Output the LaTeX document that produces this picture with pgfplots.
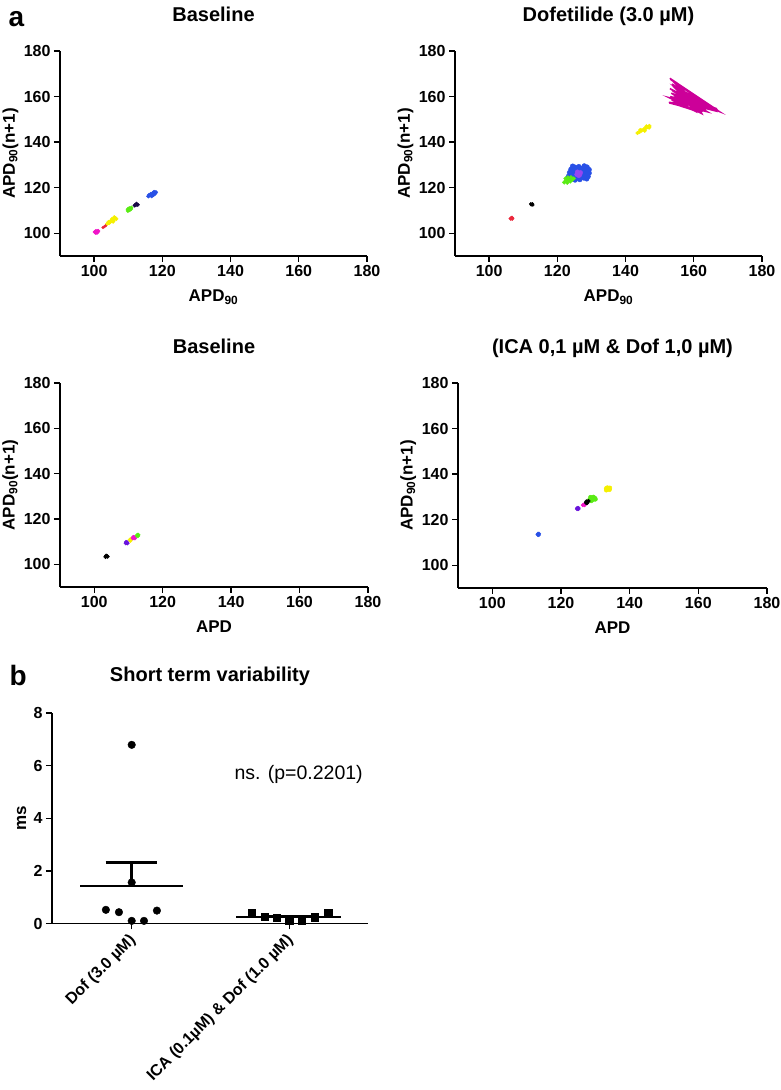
\documentclass[border=0pt]{standalone}
\usepackage{fontspec}
\setmainfont{Liberation Sans}
\usepackage{pgfplots}
\pgfplotsset{compat=1.18}

\definecolor{cmag}{RGB}{240,20,200}
\definecolor{cmagb}{RGB}{204,0,153}
\definecolor{cred}{RGB}{235,40,60}
\definecolor{cyel}{RGB}{245,240,0}
\definecolor{cgrn}{RGB}{90,235,20}
\definecolor{cblu}{RGB}{40,80,230}
\definecolor{cnavy}{RGB}{25,10,70}
\definecolor{cpur}{RGB}{105,20,220}
\definecolor{clav}{RGB}{150,70,240}

\newcommand{\tfont}{\fontsize{20}{20}\selectfont\bfseries}
\newcommand{\lfont}{\fontsize{17}{17}\selectfont\bfseries}
\newcommand{\kfont}{\fontsize{16}{16}\selectfont\bfseries}

\pgfplotsset{
  common/.style={
    scale only axis,
    axis lines=left, axis line style={-, line width=1.8pt},
    tick align=outside, major tick length=6pt,
    tick style={line width=1.4pt, black},
    tick label style={font=\kfont},
    /pgf/number format/assume math mode=true,
    clip=false,
  },
  poinc/.style={
    common, width=307pt, height=205pt,
    xmin=90, xmax=180, ymin=90, ymax=180,
    xtick={100,120,...,180}, ytick={100,120,...,180},
    title style={font=\tfont, at={(axis description cs:0.5,1.117)}, anchor=base},
    xlabel style={font=\lfont, at={(axis description cs:0.5,-0.224)}, anchor=base},
    ylabel style={font=\lfont, at={(axis description cs:-0.147,0.5)}, anchor=base},
  },
  cl/.style={only marks, mark=*, mark size=1.9pt, color=#1},
}

\begin{document}
\begin{tikzpicture}
\path[use as bounding box] (0,0) rectangle (780pt,1090pt);

\node[font=\fontsize{28}{28}\selectfont\bfseries, anchor=base west] at (5pt,1063pt) {a};
\node[font=\fontsize{28}{28}\selectfont\bfseries, anchor=base west] at (6pt,404pt) {b};

% top left
\begin{axis}[poinc, at={(60pt,834pt)}, anchor=south west,
  title={Baseline}, xlabel={APD\textsubscript{90}}, ylabel={APD\textsubscript{90}(n+1)}]
\addplot[cl=cmag] coordinates {(100.2,100.5)(100.6,100.9)(101.0,100.6)(100.5,100.2)(100.9,100.3)(100.4,100.7)(101.2,101.0)};
\addplot[cl=cred, mark size=1.4pt] coordinates {(102.6,102.5)(103.0,102.9)(103.4,103.3)};
\addplot[cl=cyel] coordinates {(103.9,104.2)(104.4,104.5)(104.8,105.2)(105.3,105.4)(105.8,106.0)(106.2,106.6)(104.6,104.9)(105.6,105.1)(105.2,106.2)(106.5,106.3)(105.9,107.0)(104.2,104.9)};
\addplot[cl=cgrn] coordinates {(109.9,109.8)(110.4,110.2)(110.8,110.6)(110.3,110.9)(110.9,111.2)(109.9,110.5)};
\addplot[cl=cnavy] coordinates {(111.9,112.2)(112.4,112.6)(112.8,112.5)(112.4,112.9)};
\addplot[cl=cblu] coordinates {(115.9,116.2)(116.4,116.6)(116.9,116.3)(117.4,116.8)(117.9,117.4)(117.6,118.1)(116.6,117.2)(116.1,116.8)(117.2,117.6)(118.1,118.0)};
\end{axis}

% top right
\begin{axis}[poinc, at={(455pt,834pt)}, anchor=south west,
  title={Dofetilide (3.0 µM)}, xlabel={APD\textsubscript{90}}, ylabel={APD\textsubscript{90}(n+1)}]
\addplot[cl=cred] coordinates {(106.3,106.4)(106.7,106.8)(106.5,106.6)(106.8,106.4)};
\addplot[cl=black, mark size=1.5pt] coordinates {(112.3,112.5)(112.7,112.9)(112.5,112.6)(112.2,112.9)(112.8,112.4)};
\addplot[cl=cblu, mark size=2.5pt] coordinates {(123.3,125.0)(123.6,126.6)(124.0,128.0)(124.2,124.0)(124.6,125.6)(124.8,127.3)(125.2,128.9)(125.5,124.2)(125.8,126.0)(126.0,127.6)(126.3,129.2)(126.6,123.6)(126.9,125.2)(127.2,126.8)(127.5,128.6)(127.8,124.3)(128.1,125.8)(128.4,127.4)(128.7,129.0)(129.0,124.9)(129.3,126.4)(129.3,127.9)(124.5,129.4)(127.9,129.5)(125.2,123.4)(123.0,124.0)(128.6,123.9)(125.0,126.5)(127.0,128.0)(126.5,124.8)(128.0,127.0)};
\addplot[cl=clav, mark size=2.2pt] coordinates {(125.7,125.8)(126.2,126.3)(126.6,125.7)(125.9,126.9)(126.8,126.6)(126.3,125.3)};
\addplot[cl=cgrn] coordinates {(122.0,122.3)(122.5,123.2)(122.9,122.2)(123.3,123.6)(123.8,122.7)(124.3,123.4)(124.8,124.0)(123.1,124.5)(122.4,124.0)(124.0,124.5)};
\addplot[cl=cyel] coordinates {(143.5,144.0)(144.1,144.5)(144.7,145.1)(145.3,145.6)(145.9,146.1)(146.5,146.6)(147.0,147.1)(144.3,145.3)(145.6,145.0)(146.1,146.9)(146.9,146.4)};
\addplot[cmagb, line width=1.5pt, mark=none] coordinates {
(153.2,167.5)(166.5,153.8)(153.6,165.5)(165.0,154.2)(153.0,163.5)(163.5,153.6)
(154.0,166.5)(167.5,153.4)(153.4,161.5)(162.5,153.2)(154.5,164.0)(166.0,154.5)
(152.8,159.5)(161.8,152.9)(155.0,163.0)(164.5,155.0)(152.7,157.5)(162.0,153.0)
(156.0,162.0)(165.5,154.0)(153.5,158.5)(160.5,153.5)(155.5,165.0)(167.0,154.0)
(153.0,168.0)(163.0,154.5)(154.2,160.5)(161.0,154.0)(152.8,157.2)(164.0,153.3)
(153.8,162.5)(166.8,154.6)(153.1,160.0)(162.8,154.0)};
\end{axis}

% bottom left
\begin{axis}[poinc, at={(60pt,503pt)}, anchor=south west, width=308pt, height=204pt,
  title={Baseline}, xlabel={APD}, ylabel={APD\textsubscript{90}(n+1)}]
\addplot[cl=black] coordinates {(103.3,103.3)(103.7,103.7)(103.9,103.4)(103.5,103.8)};
\addplot[cl=cpur] coordinates {(109.2,109.3)(109.6,109.7)(109.7,109.3)(109.3,109.8)};
\addplot[cl=cyel] coordinates {(110.4,110.8)(110.8,111.2)(110.6,110.4)};
\addplot[cl=cmag] coordinates {(111.3,111.5)(111.7,111.9)(111.9,111.5)(111.4,112.0)};
\addplot[cl=cgrn] coordinates {(112.5,112.6)(112.9,113.0)(112.8,112.5)(112.6,113.0)};
\end{axis}

% bottom right
\begin{axis}[poinc, at={(458pt,502pt)}, anchor=south west, width=309pt,
  title={(ICA 0,1 µM \& Dof 1,0 µM)}, xlabel={APD}, ylabel={APD\textsubscript{90}(n+1)}]
\addplot[cl=cblu] coordinates {(113.2,113.4)(113.6,113.8)(113.5,113.3)(113.3,113.8)};
\addplot[cl=cpur] coordinates {(124.7,124.7)(125.1,125.1)(125.1,124.7)(124.7,125.1)};
\addplot[cl=cmag] coordinates {(126.4,126.4)(126.8,126.8)(126.9,126.4)};
\addplot[cl=cgrn, mark size=2.2pt] coordinates {(128.3,128.6)(128.8,129.3)(129.3,128.8)(129.8,129.5)(129.4,129.9)(128.8,128.3)(130.0,129.0)(128.6,129.8)};
\addplot[cl=black] coordinates {(127.3,127.4)(127.7,127.8)(128.0,128.2)(127.6,127.3)(127.4,128.0)};
\addplot[cl=cyel, mark size=2.2pt] coordinates {(133.2,133.0)(133.7,133.5)(134.2,133.9)(133.5,134.0)(134.1,133.2)(133.2,133.7)};
\end{axis}

% panel b
\begin{axis}[common, at={(52pt,166.5pt)}, anchor=south west, width=316pt, height=210.5pt,
  xmin=-0.506, xmax=1.5, ymin=0, ymax=8,
  xtick={0,1}, ytick={0,2,4,6,8},
  xticklabels={Dof (3.0 µM), ICA (0.1µM) \& Dof (1.0 µM)},
  xticklabel style={font=\fontsize{16}{16}\selectfont\bfseries, xshift=4pt, yshift=-6pt, rotate=45, anchor=east},
  title={Short term variability},
  title style={font=\tfont, at={(axis description cs:0.5,1.119)}, anchor=base},
  ylabel={ms},
  ylabel style={font=\lfont, at={(axis description cs:-0.082,0.5)}, anchor=base},
]
\addplot[black, line width=2pt] coordinates {(-0.327,1.43)(0.328,1.43)};
\addplot[black, line width=3pt] coordinates {(0,1.43)(0,2.32)};
\addplot[black, line width=3pt] coordinates {(-0.165,2.32)(0.16,2.32)};
\addplot[black, line width=2pt] coordinates {(0.665,0.25)(1.33,0.25)};
\addplot[black, line width=1pt] coordinates {(0.85,0.29)(1.15,0.29)};
\addplot[only marks, mark=*, mark size=3.8pt, black] coordinates {(0,6.79)(0,1.56)(-0.164,0.52)(-0.081,0.43)(0,0.1)(0.078,0.1)(0.16,0.49)};
\addplot[only marks, mark=square*, mark size=3.7pt, black] coordinates {(0.761,0.41)(0.846,0.26)(0.92,0.22)(1,0.11)(1.079,0.11)(1.163,0.24)(1.248,0.39)};
\node[font=\fontsize{19.5}{19.5}\selectfont, anchor=base] at (axis cs:1.06,5.48) {ns. (p=0.2201)};
\end{axis}
\end{tikzpicture}
\end{document}
